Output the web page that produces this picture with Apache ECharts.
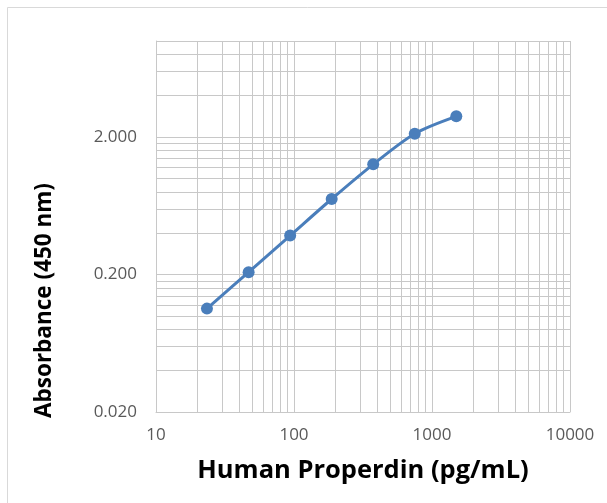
<!DOCTYPE html>
<html>
<head>
<meta charset="utf-8">
<script src="https://cdn.jsdelivr.net/npm/echarts@6/dist/echarts.min.js"></script>
<style>
html,body{margin:0;padding:0;background:#fff;}
#chart{width:607px;height:503px;}
</style>
</head>
<body>
<div id="chart"></div>
<script>
// Concentration (pg/mL)
const concentrations = [23.4, 46.9, 93.8, 187.5, 375, 750, 1500];
// Absorbance at 450 nm
const absorbance = [0.113, 0.208, 0.384, 0.709, 1.267, 2.117, 2.83];

const xTickLabels = [10, 100, 1000, 10000];
const xGridValues = [10, 20, 30, 40, 50, 60, 70, 80, 90,
  100, 200, 300, 400, 500, 600, 700, 800, 900,
  1000, 2000, 3000, 4000, 5000, 6000, 7000, 8000, 9000, 10000];
const yTickLabels = [0.02, 0.2, 2];
const yGridValues = [0.02, 0.04, 0.06, 0.08, 0.1, 0.12, 0.14, 0.16, 0.18,
  0.2, 0.4, 0.6, 0.8, 1, 1.2, 1.4, 1.6, 1.8,
  2, 4, 6, 8, 10];

const seriesData = concentrations.map((c, i) => [c, absorbance[i]]);

const chart = echarts.init(document.getElementById('chart'));
const gridColor = '#c8c8c8';
chart.setOption({
  animation: false,
  backgroundColor: '#ffffff',
  graphic: [{
    type: 'rect',
    shape: {x: 7.5, y: 7.5, width: 640, height: 540},
    style: {fill: 'none', stroke: '#d9d9d9', lineWidth: 1},
    silent: true
  }],
  grid: {left: 156, top: 41, right: 37, bottom: 91, containLabel: false},
  xAxis: {
    type: 'log',
    logBase: 10,
    min: 10,
    max: 10000,
    name: 'Human Properdin (pg/mL)',
    nameLocation: 'middle',
    nameGap: 46,
    nameTextStyle: {fontFamily: 'Open Sans', fontWeight: 'bold', fontSize: 25.5, color: '#000'},
    axisLine: {show: true, lineStyle: {color: gridColor}},
    axisTick: {show: false, customValues: xGridValues},
    axisLabel: {customValues: xTickLabels, fontFamily: 'Open Sans', fontSize: 17, color: '#595959', margin: 15,
      formatter: v => String(Math.round(v))},
    splitLine: {show: true, lineStyle: {color: gridColor, width: 1}},
    minorSplitLine: {show: false}
  },
  yAxis: {
    type: 'log',
    logBase: 10,
    min: 0.02,
    max: 10,
    name: 'Absorbance (450 nm)',
    nameLocation: 'middle',
    nameGap: 100,
    nameRotate: 90,
    nameTextStyle: {fontFamily: 'Open Sans', fontWeight: 'bold', fontSize: 22.5, color: '#000', padding: [0, 148, 0, 0]},
    axisLine: {show: true, lineStyle: {color: gridColor}},
    axisTick: {show: false, customValues: yGridValues},
    axisLabel: {customValues: yTickLabels, fontFamily: 'Open Sans', fontSize: 17, color: '#595959', margin: 19,
      formatter: v => Number(v).toFixed(3)},
    splitLine: {show: true, lineStyle: {color: gridColor, width: 1}},
    minorSplitLine: {show: false}
  },
  series: [{
    type: 'line',
    data: seriesData,
    smooth: 0.3,
    symbol: 'circle',
    symbolSize: 12,
    lineStyle: {color: '#4a7ebb', width: 3},
    itemStyle: {color: '#4a7ebb'},
    z: 5
  }]
});
</script>
</body>
</html>
